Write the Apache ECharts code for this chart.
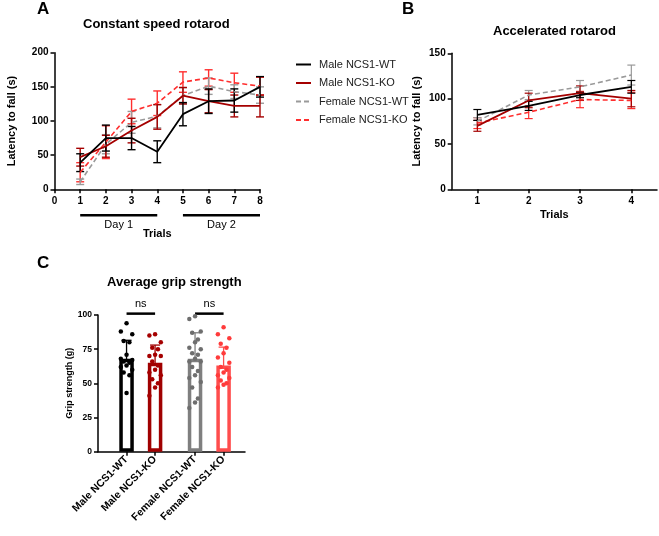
<!DOCTYPE html>
<html>
<head>
<meta charset="utf-8">
<script src="https://cdn.jsdelivr.net/npm/echarts@6.0.0/dist/echarts.min.js"></script>
<style>
html, body { margin: 0; padding: 0; background: #fff; }
#main { width: 659px; height: 536px; }
</style>
</head>
<body>
<div id="main"></div>
<script>
/******************** A: constant speed rotarod ********************/
var trialsA = [1, 2, 3, 4, 5, 6, 7, 8];
var maleWtA = [39, 75, 75, 55, 110, 129, 130, 150];
var maleWtASd = [13, 19, 17, 16, 17, 18, 17, 15];
var maleKoA = [47, 63, 86, 106, 137, 129, 122, 122];
var maleKoASd = [13, 16, 18, 18, 12, 17, 16, 16];
var femWtA = [11, 66, 98, 107, 137, 151, 143, 138];
var femWtASd = [4, 14, 16, 17, 12, 12, 10, 12];
var femKoA = [25, 69, 114, 126, 157, 163, 156, 151];
var femKoASd = [14, 24, 18, 18, 15, 12, 14, 13];
var dayLabels = ['Day 1', 'Day 2'];
var dayRanges = [[1, 4], [5, 8]];

/******************** B: accelerated rotarod ********************/
var trialsB = ['1', '2', '3', '4'];
var maleWtB = [82, 92, 104, 113];
var maleWtBSd = [6, 5, 3, 7];
var maleKoB = [70, 98, 106, 100];
var maleKoBSd = [6, 8, 8, 9];
var femWtB = [75, 104, 113, 126];
var femWtBSd = [4, 5, 7, 11];
var femKoB = [73, 85, 99, 98];
var femKoBSd = [6, 7, 9, 9];

/******************** C: average grip strength ********************/
var groupsC = ['Male NCS1-WT', 'Male NCS1-KO', 'Female NCS1-WT', 'Female NCS1-KO'];
var gripMean = [68, 65, 68, 63];
var gripSd = [13.5, 13, 19, 13.5];
var gripMaleWt = [94, 88, 86, 81, 80, 71, 68, 67, 66, 65, 63, 62, 60, 58, 56, 43];
var gripMaleKo = [86, 85, 80, 76, 75, 71, 70, 70, 66, 63, 60, 58, 56, 53, 50, 47, 41];
var gripFemWt = [99, 97, 88, 87, 82, 80, 76, 75, 72, 71, 68, 66, 66, 62, 59, 56, 54, 51, 47, 39, 36, 32];
var gripFemKo = [91, 86, 83, 79, 76, 72, 69, 65, 62, 60, 58, 56, 54, 52, 50, 49, 47];
var nsPairs = [[0, 1], [2, 3]];

var names = ['Male NCS1-WT', 'Male NCS1-KO', 'Female NCS1-WT', 'Female NCS1-KO'];
var lineColors = ['#000000', '#a50000', '#9a9a9a', '#ff2e2e'];
var barColors = ['#000000', '#a00000', '#7f7f7f', '#ff4d4d'];
var dotColors = ['#000000', '#a50000', '#6e6e6e', '#ff3b3b'];
var FONT = 'Liberation Sans, Arial, Helvetica, sans-serif';

// x slots for the bar groups (gap between males and females)
var slotC = [1, 2, 3.4, 4.4];
var jitter = [0, -0.2, 0.2, -0.1, 0.1];

var chart = echarts.init(document.getElementById('main'), null, { renderer: 'canvas' });

function errBar(color, cap, width) {
    return function (params, api) {
        var x = api.value(0);
        var lo = api.coord([x, api.value(1)]);
        var hi = api.coord([x, api.value(2)]);
        var seg = function (x1, y1, x2, y2) {
            return { type: 'line', shape: { x1: x1, y1: y1, x2: x2, y2: y2 },
                     style: { stroke: color, lineWidth: width } };
        };
        return { type: 'group', children: [
            seg(lo[0], lo[1], hi[0], hi[1]),
            seg(lo[0] - cap, lo[1], lo[0] + cap, lo[1]),
            seg(hi[0] - cap, hi[1], hi[0] + cap, hi[1])
        ] };
    };
}

function errData(xs, mean, sd) {
    return mean.map(function (m, i) { return [xs[i], m - sd[i], m + sd[i]]; });
}

var seriesA = [maleWtA, maleKoA, femWtA, femKoA];
var sdA = [maleWtASd, maleKoASd, femWtASd, femKoASd];
var seriesB = [maleWtB, maleKoB, femWtB, femKoB];
var sdB = [maleWtBSd, maleKoBSd, femWtBSd, femKoBSd];
var gripPts = [gripMaleWt, gripMaleKo, gripFemWt, gripFemKo];
var dashed = [false, false, true, true];

var series = [];
// draw order: females first, males on top
[3, 2, 1, 0].forEach(function (k) {
    var ls = { color: lineColors[k], width: dashed[k] ? 1.6 : 1.8, type: dashed[k] ? [5, 3] : 'solid' };
    series.push({
        name: names[k] + ' errA', type: 'custom', xAxisIndex: 0, yAxisIndex: 0,
        renderItem: errBar(lineColors[k], 4, 1.4), clip: false, silent: true,
        encode: { x: 0, y: [1, 2] },
        data: errData(trialsA, seriesA[k], sdA[k])
    });
    series.push({
        name: names[k], type: 'line', xAxisIndex: 0, yAxisIndex: 0,
        symbol: 'none', lineStyle: ls, itemStyle: { color: lineColors[k] },
        data: trialsA.map(function (t, i) { return [t, seriesA[k][i]]; })
    });
    series.push({
        name: names[k] + ' errB', type: 'custom', xAxisIndex: 1, yAxisIndex: 1,
        renderItem: errBar(lineColors[k], 4, 1.2), clip: false, silent: true,
        encode: { x: 0, y: [1, 2] },
        data: errData([0, 1, 2, 3], seriesB[k], sdB[k])
    });
    series.push({
        name: names[k], type: 'line', xAxisIndex: 1, yAxisIndex: 1,
        symbol: 'none', lineStyle: ls, itemStyle: { color: lineColors[k] },
        data: seriesB[k]
    });
});

// day bars under panel A
series.push({
    name: 'days', type: 'custom', xAxisIndex: 0, yAxisIndex: 0, clip: false, silent: true,
    renderItem: function (params, api) {
        var p1 = api.coord([api.value(0), 0]);
        var p2 = api.coord([api.value(1), 0]);
        var y = p1[1] + 26;
        return { type: 'group', children: [
            { type: 'line', shape: { x1: p1[0], y1: y, x2: p2[0], y2: y },
              style: { stroke: '#000', lineWidth: 2.5 } },
            { type: 'text', x: (p1[0] + p2[0]) / 2, y: y + 4,
              style: { text: dayLabels[params.dataIndex], fill: '#000', font: '11px ' + FONT,
                       align: 'center', verticalAlign: 'top' } }
        ] };
    },
    encode: { x: [0, 1] },
    data: dayRanges
});

// panel C bars
series.push({
    name: 'grip bars', type: 'bar', xAxisIndex: 2, yAxisIndex: 2, barWidth: 14.5, silent: true,
    data: gripMean.map(function (m, i) {
        return { value: [slotC[i], m], itemStyle: { color: '#fff', borderColor: barColors[i], borderWidth: 3.5 } };
    })
});
gripPts.forEach(function (pts, g) {
    series.push({
        name: 'grip pts ' + g, type: 'scatter', xAxisIndex: 2, yAxisIndex: 2, silent: true,
        symbolSize: 4.5, itemStyle: { color: dotColors[g], opacity: 1 },
        data: pts.map(function (v, i) { return [slotC[g] + jitter[i % jitter.length], v]; })
    });
});
series.push({
    name: 'grip err', type: 'custom', xAxisIndex: 2, yAxisIndex: 2, clip: false, silent: true,
    renderItem: function (params, api) {
        return errBar(barColors[params.dataIndex], 5, 1.3)(params, api);
    },
    encode: { x: 0, y: [1, 2] },
    data: errData(slotC, gripMean, gripSd)
});
series.push({
    name: 'ns', type: 'custom', xAxisIndex: 2, yAxisIndex: 2, clip: false, silent: true,
    renderItem: function (params, api) {
        var p1 = api.coord([api.value(0), 101]);
        var p2 = api.coord([api.value(1), 101]);
        return { type: 'group', children: [
            { type: 'line', shape: { x1: p1[0], y1: p1[1], x2: p2[0], y2: p1[1] },
              style: { stroke: '#000', lineWidth: 2.5 } },
            { type: 'text', x: (p1[0] + p2[0]) / 2, y: p1[1] - 4,
              style: { text: 'ns', fill: '#000', font: '11px ' + FONT, align: 'center', verticalAlign: 'bottom' } }
        ] };
    },
    encode: { x: [0, 1] },
    data: nsPairs.map(function (p) { return [slotC[p[0]], slotC[p[1]]]; })
});

var axisLine = { show: true, lineStyle: { color: '#000', width: 1.5 } };
var axisTick = { show: true, length: 4, lineStyle: { color: '#000', width: 1.5 } };
function lbl(size, extra) {
    var o = { color: '#000', fontWeight: 'bold', fontSize: size, fontFamily: FONT };
    for (var k in extra) o[k] = extra[k];
    return o;
}
function nameStyle(size) {
    return { color: '#000', fontWeight: 'bold', fontSize: size, fontFamily: FONT };
}
function ttl(text, left, top, size) {
    return { text: text, left: left, top: top, padding: 0,
             textStyle: { color: '#000', fontWeight: 'bold', fontSize: size, fontFamily: FONT } };
}

var option = {
    animation: false,
    textStyle: { fontFamily: FONT },
    title: [
        ttl('A', 37, 1, 17),
        ttl('Constant speed rotarod', 83, 18, 13),
        ttl('B', 402, 1, 17),
        ttl('Accelerated rotarod', 493, 25, 13),
        ttl('C', 37, 255, 17),
        ttl('Average grip strength', 107, 276, 13)
    ],
    legend: {
        data: names, orient: 'vertical', left: 290, top: 54,
        itemWidth: 15, itemHeight: 10, itemGap: 7.5,
        itemStyle: { opacity: 0 },
        textStyle: { color: '#222', fontSize: 11, fontFamily: FONT, padding: [0, 0, 0, 3] }
    },
    grid: [
        { left: 54.5, top: 52.7, width: 205.5, height: 136.6 },
        { left: 451.7, top: 53.3, width: 205.3, height: 136 },
        { left: 98, top: 315, width: 147, height: 136.7 }
    ],
    xAxis: [
        { gridIndex: 0, type: 'value', min: 0, max: 8, interval: 1,
          axisLine: axisLine, axisTick: axisTick, splitLine: { show: false },
          axisLabel: lbl(10, { margin: 7 }),
          name: 'Trials', nameLocation: 'middle', nameGap: 39, nameTextStyle: nameStyle(11) },
        { gridIndex: 1, type: 'category', data: trialsB, boundaryGap: true,
          axisLine: axisLine, axisTick: { show: true, length: 4, alignWithLabel: true, lineStyle: { color: '#000', width: 1.5 } },
          splitLine: { show: false }, axisLabel: lbl(10, { margin: 7 }),
          name: 'Trials', nameLocation: 'middle', nameGap: 20, nameTextStyle: nameStyle(11) },
        { gridIndex: 2, type: 'value', min: 0, max: 5.15,
          axisLine: axisLine, splitLine: { show: false },
          axisTick: { show: true, length: 4, customValues: slotC, lineStyle: { color: '#000', width: 1.5 } },
          axisLabel: lbl(10.5, { margin: 6, rotate: 45, customValues: slotC,
              formatter: function (v) { return groupsC[slotC.indexOf(v)] || ''; } }) }
    ],
    yAxis: [
        { gridIndex: 0, type: 'value', min: 0, max: 200, interval: 50,
          axisLine: axisLine, axisTick: axisTick, splitLine: { show: false },
          axisLabel: lbl(10, { margin: 6 }),
          name: 'Latency to fall (s)', nameLocation: 'middle', nameRotate: 90, nameGap: 37, nameTextStyle: nameStyle(11) },
        { gridIndex: 1, type: 'value', min: 0, max: 150, interval: 50,
          axisLine: axisLine, axisTick: axisTick, splitLine: { show: false },
          axisLabel: lbl(10, { margin: 6 }),
          name: 'Latency to fall (s)', nameLocation: 'middle', nameRotate: 90, nameGap: 29, nameTextStyle: nameStyle(11) },
        { gridIndex: 2, type: 'value', min: 0, max: 100, interval: 25,
          axisLine: axisLine, axisTick: axisTick, splitLine: { show: false },
          axisLabel: lbl(8.5, { margin: 6 }),
          name: 'Grip strength (g)', nameLocation: 'middle', nameRotate: 90, nameGap: 20, nameTextStyle: nameStyle(9) }
    ],
    series: series
};
chart.setOption(option);
</script>
</body>
</html>
